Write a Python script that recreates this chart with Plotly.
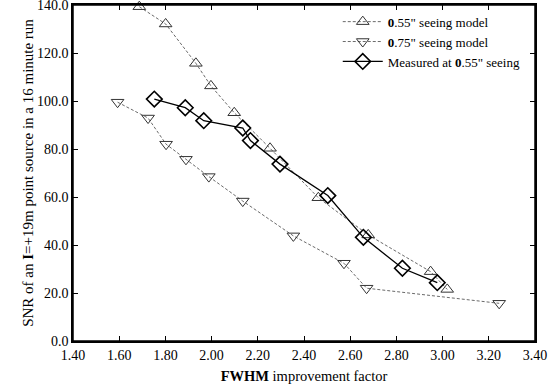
import plotly.graph_objects as go

# 0.55" seeing model
model055_x = [1.687, 1.801, 1.932, 1.997, 2.098, 2.253, 2.462, 2.678, 2.948, 3.020]
model055_y = [139.3, 132.1, 115.7, 106.3, 95.1, 80.3, 59.7, 44.2, 28.9, 21.5]

# 0.75" seeing model
model075_x = [1.593, 1.725, 1.803, 1.889, 1.988, 2.135, 2.354, 2.573, 2.671, 3.245]
model075_y = [99.5, 92.9, 82.0, 75.7, 68.5, 58.3, 43.8, 32.4, 22.0, 15.7]

# Measured at 0.55" seeing
measured_x = [1.752, 1.886, 1.966, 2.135, 2.168, 2.296, 2.503, 2.657, 2.826, 2.977]
measured_y = [100.8, 97.2, 91.8, 88.75, 83.5, 73.7, 60.6, 43.2, 30.3, 24.3]

x_ticks = [1.4, 1.6, 1.8, 2.0, 2.2, 2.4, 2.6, 2.8, 3.0, 3.2, 3.4]
y_ticks = [0, 20, 40, 60, 80, 100, 120, 140]

FONT = "Liberation Serif, Times New Roman, serif"

fig = go.Figure()
fig.add_trace(go.Scatter(
    x=model055_x, y=model055_y, mode="lines+markers",
    name="<b>0</b>.55\" seeing model",
    line=dict(color="#444", width=0.8, dash="3px,2px"),
    marker=dict(symbol="triangle-up-open", size=11, color="#333", line=dict(width=1)),
    cliponaxis=False,
))
fig.add_trace(go.Scatter(
    x=model075_x, y=model075_y, mode="lines+markers",
    name="<b>0</b>.75\" seeing model",
    line=dict(color="#444", width=0.8, dash="3px,2px"),
    marker=dict(symbol="triangle-down-open", size=11, color="#333", line=dict(width=1)),
    cliponaxis=False,
))
fig.add_trace(go.Scatter(
    x=measured_x, y=measured_y, mode="lines+markers",
    name="Measured at <b>0</b>.55\" seeing",
    line=dict(color="black", width=1.3),
    marker=dict(symbol="diamond-open", size=12, color="black", line=dict(width=1.6)),
    cliponaxis=False,
))

axis_common = dict(
    showline=True, linecolor="black", linewidth=1.5, mirror="allticks",
    ticks="inside", ticklen=5, tickwidth=1, tickcolor="black",
    showgrid=False, zeroline=False, ticklabeloverflow="allow",
    tickfont=dict(family=FONT, size=14, color="black"),
)

fig.update_xaxes(
    range=[1.4, 3.4], tickvals=x_ticks, ticktext=[f"{v:.2f}" for v in x_ticks],
    title=dict(text="<b>FWHM</b> improvement factor", font=dict(family=FONT, size=14.5, color="black"), standoff=9),
    **axis_common,
)
fig.update_yaxes(
    range=[0, 140], tickvals=y_ticks, ticktext=[f"{v:.1f}" for v in y_ticks],
    title=dict(text="SNR of an <b>I</b>=+19m point source in a 16 minute run", font=dict(family=FONT, size=15, color="black"), standoff=0),
    **axis_common,
)

# plot frame
fig.add_shape(type="rect", xref="paper", yref="paper", x0=0, x1=1, y0=0, y1=1,
              line=dict(color="black", width=1.5), layer="above")

fig.update_layout(
    width=549, height=387,
    margin=dict(l=73, r=14, t=5, b=46, autoexpand=False),
    paper_bgcolor="white", plot_bgcolor="white",
    font=dict(family=FONT, size=14, color="black"),
    showlegend=True,
    legend=dict(x=0.98, y=0.995, xanchor="right", yanchor="top",
                bgcolor="rgba(255,255,255,0)", borderwidth=0,
                font=dict(family=FONT, size=13), tracegroupgap=0, itemwidth=40),
)

fig.write_html("out.html", config={"displayModeBar": False},
               post_script="document.body.style.margin='0';document.body.style.padding='0';")
